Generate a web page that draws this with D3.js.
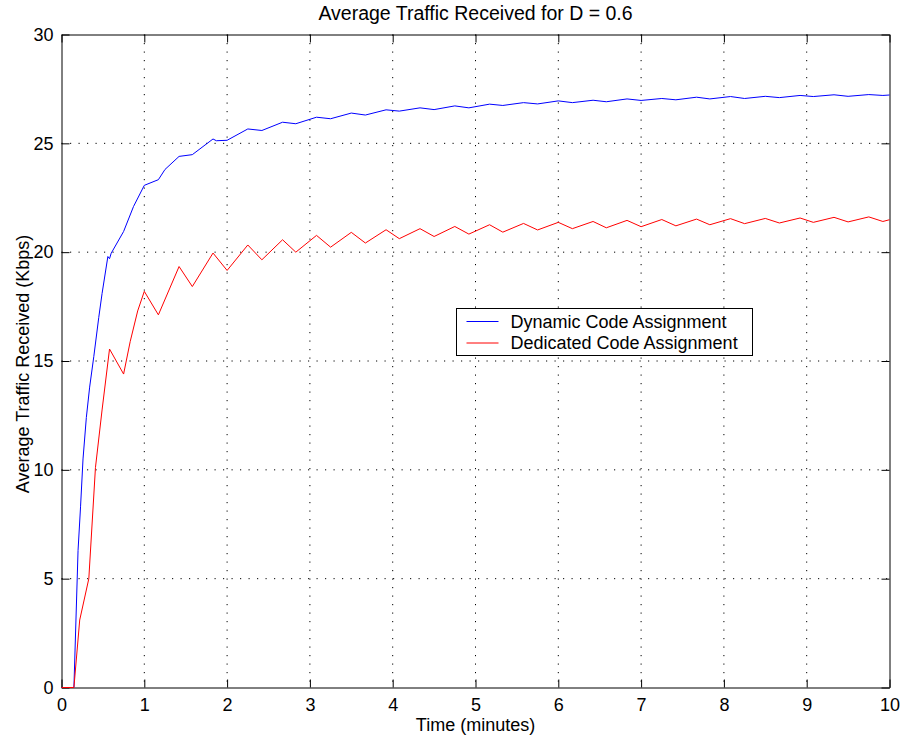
<!DOCTYPE html>
<html>
<head>
<meta charset="utf-8">
<script src="https://cdn.jsdelivr.net/npm/d3@7"></script>
<style>
  body { margin: 0; background: #fff; }
  text { font-family: "Liberation Sans", Arial, Helvetica, sans-serif; fill: #000; }
  .axis path, .axis line { stroke: #000; }
  .grid line { stroke: #000; stroke-dasharray: 1.2,7.3; }
</style>
</head>
<body>
<script>
// chart data
var title = "Average Traffic Received for D = 0.6";
var xLabel = "Time (minutes)";
var yLabel = "Average Traffic Received (Kbps)";
var seriesNames = ["Dynamic Code Assignment", "Dedicated Code Assignment"];

var xTicks = [0, 1, 2, 3, 4, 5, 6, 7, 8, 9, 10];
var yTicks = [0, 5, 10, 15, 20, 25, 30];

// dynamic code assignment (blue)
var dynamicTime = [0, 0.15, 0.2, 0.23, 0.26, 0.3, 0.34, 0.39, 0.45, 0.49, 0.56, 0.58, 0.6, 0.75, 0.87, 1.0,
  1.17, 1.25, 1.42, 1.58, 1.83, 1.87, 2.0, 2.25, 2.42, 2.67, 2.83, 3.08, 3.25, 3.5, 3.67, 3.92, 4.08,
  4.33, 4.5, 4.75, 4.92, 5.17, 5.33, 5.58, 5.75, 6.0, 6.17, 6.42, 6.58, 6.83, 7.0, 7.25, 7.42,
  7.67, 7.83, 8.08, 8.25, 8.5, 8.67, 8.92, 9.08, 9.33, 9.5, 9.75, 9.92, 10];
var dynamicValues = [0, 0, 6.3, 8.3, 10.5, 12.4, 13.8, 15.2, 17.0, 18.1, 19.8, 19.7, 19.95, 20.95, 22.1, 23.07,
  23.33, 23.8, 24.4, 24.48, 25.2, 25.12, 25.14, 25.66, 25.59, 25.97, 25.9, 26.2, 26.13, 26.39, 26.3, 26.54, 26.48,
  26.63, 26.55, 26.72, 26.63, 26.8, 26.74, 26.87, 26.81, 26.95, 26.87, 26.98, 26.91, 27.04, 26.97, 27.06, 27.0,
  27.12, 27.04, 27.15, 27.06, 27.16, 27.1, 27.2, 27.15, 27.23, 27.16, 27.24, 27.2, 27.22];

// dedicated code assignment (red)
var dedicatedTime = [0, 0.15, 0.22, 0.33, 0.41, 0.49, 0.58, 0.75, 0.83, 0.92, 1.0, 1.17, 1.42, 1.58, 1.83, 2.0,
  2.25, 2.42, 2.67, 2.83, 3.08, 3.25, 3.5, 3.67, 3.92, 4.08, 4.33, 4.5, 4.75, 4.92, 5.17, 5.33,
  5.58, 5.75, 6.0, 6.17, 6.42, 6.58, 6.83, 7.0, 7.25, 7.42, 7.67, 7.83, 8.08, 8.25, 8.5, 8.67,
  8.92, 9.08, 9.33, 9.5, 9.75, 9.92, 10];
var dedicatedValues = [0, 0, 3.1, 5.0, 10.1, 12.75, 15.55, 14.4, 15.9, 17.3, 18.2, 17.12, 19.34, 18.42, 19.96, 19.16,
  20.33, 19.65, 20.57, 20.0, 20.77, 20.23, 20.91, 20.42, 21.03, 20.62, 21.08, 20.72, 21.18, 20.83, 21.26, 20.92,
  21.32, 21.02, 21.37, 21.08, 21.41, 21.12, 21.46, 21.17, 21.5, 21.21, 21.52, 21.26, 21.54, 21.31, 21.55, 21.34,
  21.57, 21.37, 21.6, 21.39, 21.62, 21.41, 21.49];

var seriesColors = ["#0000ff", "#ff0000"];

// Set up our chart
var svgWidth = 903;
var svgHeight = 738;
var margin = { top: 34, right: 14, bottom: 51, left: 61 };
var width = svgWidth - margin.left - margin.right;
var height = svgHeight - margin.top - margin.bottom;

var svg = d3.select("body")
  .append("svg")
  .attr("width", svgWidth)
  .attr("height", svgHeight);

var chartGroup = svg.append("g")
  .attr("transform", `translate(${margin.left + 0.5}, ${margin.top + 0.5})`);

// scales
var xScale = d3.scaleLinear().domain([0, 10]).range([0, width]);
var yScale = d3.scaleLinear().domain([0, 30]).range([height, 0]);

// dotted grid
var grid = chartGroup.append("g").attr("class", "grid");
grid.selectAll(".gx")
  .data(xTicks.slice(1, -1))
  .enter()
  .append("line")
  .attr("x1", d => xScale(d)).attr("x2", d => xScale(d))
  .attr("y1", 0).attr("y2", height);
grid.selectAll(".gy")
  .data(yTicks.slice(1, -1))
  .enter()
  .append("line")
  .attr("x1", 0).attr("x2", width)
  .attr("y1", d => yScale(d)).attr("y2", d => yScale(d));

// axes, ticks pointing inward on all four sides
var tickLen = 8;
chartGroup.append("g")
  .attr("class", "axis")
  .attr("transform", `translate(0, ${height})`)
  .call(d3.axisBottom(xScale).tickValues(xTicks).tickSizeInner(-tickLen).tickSizeOuter(0).tickPadding(11))
  .call(g => g.selectAll("text").style("font-size", "18px"));

chartGroup.append("g")
  .attr("class", "axis")
  .call(d3.axisLeft(yScale).tickValues(yTicks).tickSizeInner(-tickLen).tickSizeOuter(0).tickPadding(8))
  .call(g => g.selectAll("text").style("font-size", "18px"));

chartGroup.append("g")
  .attr("class", "axis")
  .call(d3.axisTop(xScale).tickValues(xTicks).tickSizeInner(-tickLen).tickSizeOuter(0).tickFormat(""));

chartGroup.append("g")
  .attr("class", "axis")
  .attr("transform", `translate(${width}, 0)`)
  .call(d3.axisRight(yScale).tickValues(yTicks).tickSizeInner(-tickLen).tickSizeOuter(0).tickFormat(""));

// the lines
var series = [
  { time: dynamicTime, values: dynamicValues },
  { time: dedicatedTime, values: dedicatedValues }
];

var line = d3.line()
  .x(d => xScale(d[0]))
  .y(d => yScale(d[1]));

series.forEach(function(s, i) {
  var pts = s.time.map((t, j) => [t, s.values[j]]);
  chartGroup.append("path")
    .datum(pts)
    .attr("fill", "none")
    .attr("stroke", seriesColors[i])
    .attr("stroke-width", 1)
    .attr("d", line);
});

// legend
var legend = chartGroup.append("g")
  .attr("transform", `translate(${456 - margin.left}, ${308 - margin.top})`);
legend.append("rect")
  .attr("width", 296)
  .attr("height", 47)
  .attr("fill", "#fff")
  .attr("stroke", "#000");
seriesNames.forEach(function(name, i) {
  var ly = 13 + i * 21.5;
  legend.append("line")
    .attr("x1", 10).attr("x2", 42)
    .attr("y1", ly).attr("y2", ly)
    .attr("stroke", seriesColors[i]);
  legend.append("text")
    .attr("x", 54)
    .attr("y", ly)
    .attr("dy", "0.35em")
    .style("font-size", "18px")
    .text(name);
});

// title and axis labels
chartGroup.append("text")
  .attr("x", width / 2)
  .attr("y", 19 - margin.top)
  .style("text-anchor", "middle")
  .style("font-size", "19.5px")
  .text(title);

chartGroup.append("text")
  .attr("x", width / 2)
  .attr("y", 730 - margin.top)
  .style("text-anchor", "middle")
  .style("font-size", "18px")
  .text(xLabel);

chartGroup.append("text")
  .attr("transform", `translate(${28.5 - margin.left}, ${height / 2 + 3}) rotate(-90)`)
  .style("text-anchor", "middle")
  .style("font-size", "18px")
  .text(yLabel);
</script>
</body>
</html>
